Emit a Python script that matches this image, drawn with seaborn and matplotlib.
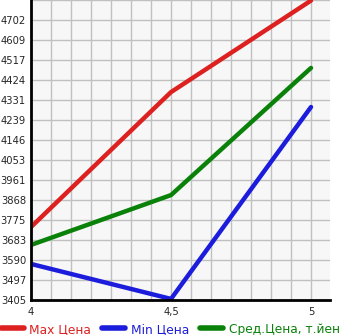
import matplotlib
matplotlib.use("Agg")
import matplotlib.pyplot as plt
import seaborn as sns
import pandas as pd

# values
x_vals = [4.0, 4.5, 5.0]
max_price = [3743, 4368, 4792]
min_price = [3572, 3410, 4299]
avg_price = [3660, 3891, 4480]

series_names = ["Max Цена", "Min Цена", "Сред.Цена, т.йен"]
colors = ["#dd2020", "#1c1cdc", "#0a820a"]

y_labels = ["3405", "3497", "3590", "3683", "3775", "3868", "3961", "4053",
            "4146", "4239", "4331", "4424", "4517", "4609", "4702"]
x_ticks = [4.0, 4.5, 5.0]
x_labels = ["4", "4,5", "5"]

df = pd.DataFrame({
    "x": x_vals * 3,
    "price": max_price + min_price + avg_price,
    "series": [series_names[0]] * 3 + [series_names[1]] * 3 + [series_names[2]] * 3,
})

sns.set_style("white")
plt.rcParams["font.family"] = ["DejaVu Sans"]

fig = plt.figure(figsize=(3.45, 3.35), dpi=100)
ax = fig.add_axes([31 / 345, 35 / 335, 299 / 345, 300 / 335])
ax.set_facecolor("#f7f7f7")

sns.lineplot(data=df, x="x", y="price", hue="series", palette=colors,
             linewidth=3.2, ax=ax, legend=False, solid_capstyle="round")

# grid / ticks
step_x = 0.5 / 7
ax.set_xticks(x_ticks)
ax.set_xticklabels(x_labels)
ax.set_xticks([4 + k * step_x for k in range(16)], minor=True)
step_y = (4702 - 3405) / 14
ax.set_yticks([3405 + k * step_y for k in range(15)])
ax.set_yticklabels(y_labels)
ax.set_yticks([3405 + 15 * step_y], minor=True)
ax.set_xlim(4, 4 + 299 / 280)
ax.set_ylim(3405, 3405 + 15 * step_y)

ax.grid(True, which="both", color="#c0c0c0", linewidth=1)
ax.tick_params(axis="both", which="both", labelsize=7.2, length=3, width=1,
               color="black")
ax.tick_params(axis="y", pad=0.5)
ax.tick_params(axis="x", pad=2)
for side in ["top", "right"]:
    ax.spines[side].set_visible(False)
for side in ["left", "bottom"]:
    ax.spines[side].set_color("black")
    ax.spines[side].set_linewidth(2)
ax.set_xlabel("")
ax.set_ylabel("")

handles = [plt.Line2D([], [], color=c, linewidth=4, solid_capstyle="round") for c in colors]
leg = fig.legend(handles, series_names, loc="lower left", bbox_to_anchor=(-0.03, -0.035),
                 ncol=3, frameon=False, fontsize=8.8, handlelength=1.9,
                 handletextpad=0.45, columnspacing=0.9)
for t, c in zip(leg.get_texts(), colors):
    t.set_color(c)

fig.savefig("out.png", dpi=100)
